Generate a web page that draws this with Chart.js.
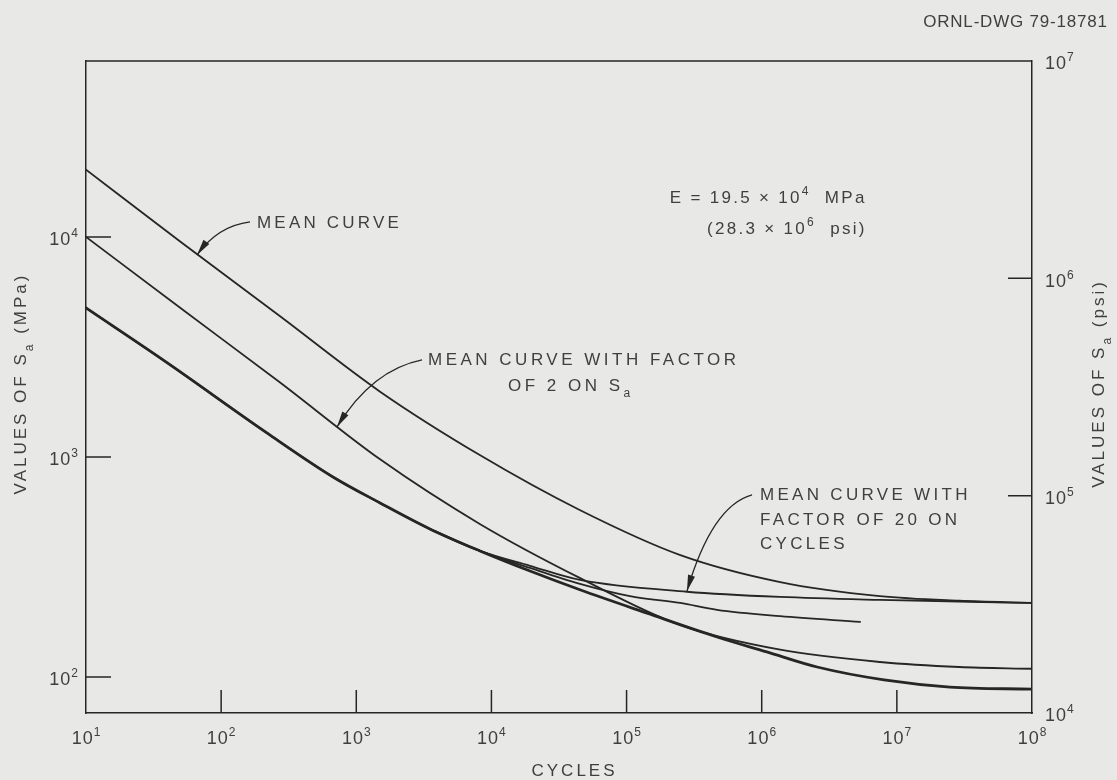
<!DOCTYPE html>
<html lang="en">
<head>
  <meta charset="UTF-8">
  <title>ORNL-DWG 79-18781 - Fatigue curves</title>
  <!-- Chart.js -->
  <script src="https://cdn.jsdelivr.net/npm/chart.js"></script>
  <style>
    html, body { margin: 0; padding: 0; background: #e8e8e6; }
    #wrap { width: 1117px; height: 780px; position: relative; }
  </style>
</head>
<body>
<div id="wrap"><canvas id="fatigueChart"></canvas></div>
<script>
  // Values: cycles (x) and S_a in MPa (y)
  const meanCycles = [10, 50, 270, 1500, 8200, 45000, 250000, 1.37e6, 7.5e6, 2.9e7, 1e8];
  const meanMPa = [20200, 9500, 4380, 1980, 1020, 574, 358, 270, 233, 222, 217];

  const factor2Cycles = [10, 50, 270, 1500, 8200, 45000, 250000, 1.37e6, 7.5e6, 2.9e7, 1e8];
  const factor2MPa = [10000, 4750, 2190, 975, 496, 282, 172, 133, 117, 111, 109];

  const factor20Cycles = [10, 40, 218, 672, 1500, 3500, 8230, 19300, 45200, 280000, 1.37e6, 7.5e6, 1e8];
  const factor20MPa = [4755, 2675, 1286, 811, 618, 471, 374, 320, 276, 244, 231, 224, 217];

  const shortCycles = [3500, 8230, 19300, 45200, 106000, 248500, 467000, 1.37e6, 5.34e6];
  const shortMPa = [471, 374, 313, 265, 233, 217, 202, 189, 178];

  const designCycles = [10, 40, 218, 672, 1500, 3500, 8230, 19300, 45200, 141700, 467000, 1.09e6, 2.57e6, 8.04e6, 2.47e7, 1e8];
  const designMPa = [4755, 2675, 1286, 811, 618, 471, 374, 303, 249, 195, 152, 130, 111, 97, 90, 88];

  // Decade ticks
  const cycleTicks = [1e1, 1e2, 1e3, 1e4, 1e5, 1e6, 1e7, 1e8];
  const mpaTicks = [1e2, 1e3, 1e4];
  const psiTicks = [1e4, 1e5, 1e6, 1e7];

  const FONT = '"Liberation Sans", Arial, sans-serif';
  const INK = '#262626';
  const TEXT = '#3f3f3f';

  // Notes, positions in log decades (log cycles, log MPa)
  const arrows = [
    { from: [2.2136, 4.0682], ctrl: [1.9768, 4.05], tip: [1.8214, 3.9182] },
    { from: [3.4863, 3.4409], ctrl: [3.1163, 3.3955], tip: [2.8573, 3.1364] },
    { from: [5.9282, 2.8273], ctrl: [5.6322, 2.7773], tip: [5.4472, 2.3909] }
  ];
  const notes = [
    { at: [2.2654, 4.0682], align: 'left', gap: 3.2, parts: [['MEAN CURVE', 0]] },
    { at: [3.5307, 3.4455], align: 'left', gap: 3.5, parts: [['MEAN CURVE WITH FACTOR', 0]] },
    { at: [4.1227, 3.3273], align: 'left', gap: 3.5, parts: [['OF 2 ON S', 0], ['a', -1]] },
    { at: [5.9874, 2.8318], align: 'left', gap: 3.3, parts: [['MEAN CURVE WITH', 0]] },
    { at: [5.9874, 2.7182], align: 'left', gap: 3.3, parts: [['FACTOR OF 20 ON', 0]] },
    { at: [5.9874, 2.6091], align: 'left', gap: 3.3, parts: [['CYCLES', 0]] },
    { at: [6.76, 4.1818], align: 'right', gap: 2.3, parts: [['E = 19.5 × 10', 0], ['4', 1], ['  MPa', 0]] },
    { at: [6.76, 4.0409], align: 'right', gap: 2.3, parts: [['(28.3 × 10', 0], ['6', 1], ['  psi)', 0]] }
  ];

  const toPoints = (xs, ys) => xs.map((x, i) => ({ x: x, y: ys[i] }));

  // text with superscript (1) / subscript (-1) pieces
  function rich(ctx, parts, x, yMid, align, size, spacing) {
    const small = Math.round(size * 0.68);
    ctx.letterSpacing = (spacing || 0) + 'px';
    const widths = parts.map(([t, v]) => {
      ctx.font = (v ? small : size) + 'px ' + FONT;
      return ctx.measureText(t).width;
    });
    const total = widths.reduce((s, w) => s + w, 0) - (spacing || 0);
    let cx = align === 'center' ? x - total / 2 : align === 'right' ? x - total : x;
    const base = yMid + size * 0.36;
    ctx.textAlign = 'left';
    ctx.textBaseline = 'alphabetic';
    parts.forEach(([t, v], i) => {
      ctx.font = (v ? small : size) + 'px ' + FONT;
      const dy = v > 0 ? -size * 0.45 : v < 0 ? size * 0.38 : 0;
      ctx.fillText(t, cx, base + dy);
      cx += widths[i];
    });
    ctx.letterSpacing = '0px';
  }

  const decade = v => [['10', 0], [String(Math.round(Math.log10(v))), 1]];

  const overlay = {
    id: 'overlay',
    afterDatasetsDraw(chart) {
      const { ctx, chartArea: a, scales } = chart;
      const sx = scales.x, sy = scales.y, sp = scales.y2;
      const P = p => [sx.getPixelForValue(Math.pow(10, p[0])), sy.getPixelForValue(Math.pow(10, p[1]))];
      ctx.save();

      // top of the frame and the inward ticks
      ctx.strokeStyle = INK;
      ctx.lineWidth = 1.5;
      ctx.beginPath();
      ctx.moveTo(a.left, a.top);
      ctx.lineTo(a.right, a.top);
      cycleTicks.slice(1, -1).forEach(v => {
        const x = sx.getPixelForValue(v);
        ctx.moveTo(x, a.bottom);
        ctx.lineTo(x, a.bottom - 23);
      });
      mpaTicks.forEach(v => {
        const y = sy.getPixelForValue(v);
        ctx.moveTo(a.left, y);
        ctx.lineTo(a.left + 25, y);
      });
      psiTicks.slice(1, -1).forEach(v => {
        const y = sp.getPixelForValue(v);
        ctx.moveTo(a.right, y);
        ctx.lineTo(a.right - 24, y);
      });
      ctx.stroke();

      // tick labels
      ctx.fillStyle = TEXT;
      cycleTicks.forEach(v => rich(ctx, decade(v), sx.getPixelForValue(v), a.bottom + 25, 'center', 18, 1));
      mpaTicks.forEach(v => rich(ctx, decade(v), a.left - 8, sy.getPixelForValue(v) + 1.5, 'right', 18, 1));
      psiTicks.forEach(v => rich(ctx, decade(v), a.right + 13, sp.getPixelForValue(v) + 2, 'left', 18, 1));

      // axis titles
      const midY = (a.top + a.bottom) / 2 - 2;
      rich(ctx, [['CYCLES', 0]], (a.left + a.right) / 2 + 14, a.bottom + 57, 'center', 17, 3);
      ctx.save();
      ctx.translate(a.left - 66, midY);
      ctx.rotate(-Math.PI / 2);
      rich(ctx, [['VALUES OF S', 0], ['a', -1], [' (MPa)', 0]], 0, 0, 'center', 17, 3);
      ctx.restore();
      ctx.save();
      ctx.translate(a.right + 66, midY);
      ctx.rotate(-Math.PI / 2);
      rich(ctx, [['VALUES OF S', 0], ['a', -1], [' (psi)', 0]], 0, 0, 'center', 17, 3);
      ctx.restore();

      // drawing number
      rich(ctx, [['ORNL-DWG 79-18781', 0]], chart.width - 10, 21, 'right', 17, 0.8);

      // notes
      notes.forEach(n => {
        const p = P(n.at);
        rich(ctx, n.parts, p[0], p[1], n.align, 17, n.gap);
      });

      // leader arrows
      ctx.strokeStyle = INK;
      ctx.fillStyle = INK;
      ctx.lineWidth = 1.3;
      arrows.forEach(ar => {
        const p0 = P(ar.from), p1 = P(ar.ctrl), p2 = P(ar.tip);
        ctx.beginPath();
        ctx.moveTo(p0[0], p0[1]);
        ctx.quadraticCurveTo(p1[0], p1[1], p2[0], p2[1]);
        ctx.stroke();
        const ang = Math.atan2(p2[1] - p1[1], p2[0] - p1[0]);
        const L = 16, W = 3.6;
        const c = Math.cos(ang), s = Math.sin(ang);
        ctx.beginPath();
        ctx.moveTo(p2[0], p2[1]);
        ctx.lineTo(p2[0] - L * c + W * s, p2[1] - L * s - W * c);
        ctx.lineTo(p2[0] - L * c - W * s, p2[1] - L * s + W * c);
        ctx.closePath();
        ctx.fill();
      });
      ctx.restore();
    }
  };

  const lineStyle = {
    borderColor: INK,
    borderWidth: 1.8,
    pointRadius: 0,
    fill: false,
    cubicInterpolationMode: 'monotone',
    borderCapStyle: 'round',
    borderJoinStyle: 'round'
  };

  const axisStyle = {
    type: 'logarithmic',
    grid: { display: false, drawTicks: false, tickLength: 0 },
    ticks: { display: false, padding: 0 },
    border: { display: true, color: INK, width: 1.5 }
  };

  const fatigueChart = new Chart(document.getElementById('fatigueChart'), {
    type: 'line',
    data: {
      datasets: [
        Object.assign({ label: 'Mean curve', data: toPoints(meanCycles, meanMPa) }, lineStyle),
        Object.assign({ label: 'Mean curve with factor of 2 on Sa', data: toPoints(factor2Cycles, factor2MPa) }, lineStyle),
        Object.assign({ label: 'Mean curve with factor of 20 on cycles', data: toPoints(factor20Cycles, factor20MPa) }, lineStyle),
        Object.assign({ label: 'Curve ending at 5 x 10^6', data: toPoints(shortCycles, shortMPa) }, lineStyle),
        Object.assign({ label: 'Design curve', data: toPoints(designCycles, designMPa) }, lineStyle, { borderWidth: 2.8 })
      ]
    },
    options: {
      responsive: true,
      maintainAspectRatio: false,
      animation: false,
      layout: { padding: { left: 86, right: 85, top: 61, bottom: 67 } },
      plugins: { legend: { display: false }, tooltip: { enabled: false } },
      scales: {
        x: Object.assign({}, axisStyle, { position: 'bottom', min: 10, max: 1e8 }),
        y: Object.assign({}, axisStyle, { position: 'left', min: 68.6, max: 63000 }),
        y2: Object.assign({}, axisStyle, { position: 'right', min: 1e4, max: 1e7 })
      }
    },
    plugins: [overlay]
  });
</script>
</body>
</html>
